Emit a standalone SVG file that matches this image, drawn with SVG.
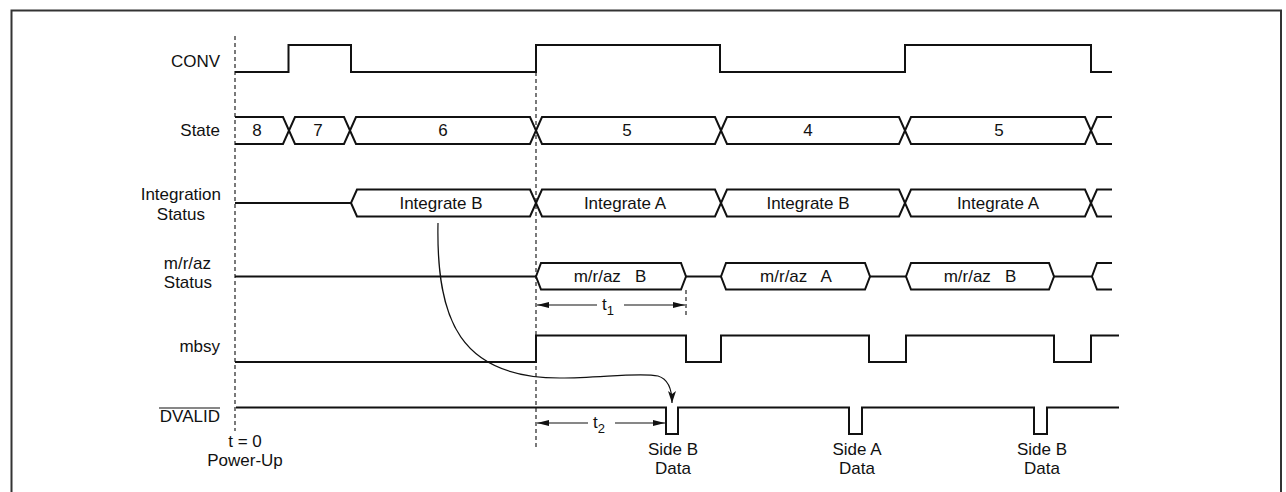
<svg xmlns="http://www.w3.org/2000/svg" width="1286" height="492" viewBox="0 0 1286 492">
<defs>
<style>
.sig{fill:none;stroke:#111;stroke-width:2;stroke-linejoin:miter}
.bus{fill:#fff;stroke:#111;stroke-width:2;stroke-linejoin:miter}
.dash{fill:none;stroke:#222;stroke-width:1.2;stroke-dasharray:4,3}
.thin{fill:none;stroke:#111;stroke-width:1.2}
text{font-family:"Liberation Sans",Arial,sans-serif;font-size:17px;fill:#111}
.lbl{text-anchor:end}
.mid{text-anchor:middle}
.sub{font-size:13px}
</style>
<marker id="ah" viewBox="0 0 12 6" refX="12" refY="3" markerWidth="12" markerHeight="6" markerUnits="userSpaceOnUse" orient="auto">
<path d="M0,0 L12,3 L0,6 Z" fill="#111"/>
</marker>
<marker id="ah2" viewBox="0 0 12 8" refX="12" refY="4" markerWidth="12" markerHeight="8" markerUnits="userSpaceOnUse" orient="auto">
<path d="M0,0 L12,4 L0,8 L3,4 Z" fill="#111"/>
</marker>
</defs>
<rect x="11.5" y="10.5" width="1269.5" height="500" fill="#fff" stroke="#333" stroke-width="2"/>

<g id="ref-lines">
<line class="dash" x1="235" y1="36" x2="235" y2="431"/>
<line class="dash" x1="536" y1="72" x2="536" y2="450"/>
<line class="dash" x1="686" y1="290" x2="686" y2="316"/>
</g>

<g id="conv">
<text class="lbl" x="220" y="67">CONV</text>
<path class="sig" d="M235,72 H288.5 V45 H351 V72 H536 V45 H720 V72 H905 V45 H1091 V72 H1112"/>
</g>

<g id="state">
<text class="lbl" x="220" y="136">State</text>
<path class="sig" d="M235,117 H283 L295,144 H344 L356,117 H530 L542,144 H715 L727,117 H899 L911,144 H1085 L1097,117 H1112"/>
<path class="sig" d="M235,144 H283 L295,117 H344 L356,144 H530 L542,117 H715 L727,144 H899 L911,117 H1085 L1097,144 H1112"/>
<text class="mid" x="257" y="136">8</text>
<text class="mid" x="318" y="136">7</text>
<text class="mid" x="443" y="136">6</text>
<text class="mid" x="627" y="136">5</text>
<text class="mid" x="808" y="136">4</text>
<text class="mid" x="999" y="136">5</text>
</g>

<g id="integration-status">
<text class="lbl" x="221" y="200">Integration</text>
<text class="lbl" x="205" y="220">Status</text>
<path class="sig" d="M235,203 H351 L357,189.5 H530 L542,216.5 H715 L727,189.5 H899 L911,216.5 H1085 L1097,189.5 H1112"/>
<path class="sig" d="M351,203 L357,216.5 H530 L542,189.5 H715 L727,216.5 H899 L911,189.5 H1085 L1097,216.5 H1112"/>
<text class="mid" x="441" y="209">Integrate B</text>
<text class="mid" x="625" y="209">Integrate A</text>
<text class="mid" x="808" y="209">Integrate B</text>
<text class="mid" x="998" y="209">Integrate A</text>
</g>

<g id="mraz-status">
<text class="lbl" x="211" y="269">m/r/az</text>
<text class="lbl" x="212" y="288">Status</text>
<path class="sig" d="M235,276.5 H536 M686,276.5 H721 M870,276.5 H906 M1054,276.5 H1092"/>
<path class="bus" d="M536,276.5 L541,263 H681 L686,276.5 L681,289.5 H541 Z"/>
<path class="bus" d="M721,276.5 L726,263 H865 L870,276.5 L865,289.5 H726 Z"/>
<path class="bus" d="M906,276.5 L911,263 H1049 L1054,276.5 L1049,289.5 H911 Z"/>
<path class="sig" d="M1112,263 H1097 L1092,276.5 L1097,289.5 H1112"/>
<text class="mid" x="610" y="282" xml:space="preserve">m/r/az   B</text>
<text class="mid" x="796" y="282" xml:space="preserve">m/r/az   A</text>
<text class="mid" x="980" y="282" xml:space="preserve">m/r/az   B</text>
</g>

<g id="mbsy">
<text class="lbl" x="220" y="352">mbsy</text>
<path class="sig" d="M235,362 H536 V335.5 H686 V362 H721 V335.5 H869 V362 H906 V335.5 H1054 V362 H1091 V335.5 H1119"/>
</g>

<g id="dvalid">
<text class="lbl" x="220" y="422">DVALID</text>
<line x1="159" y1="408" x2="220" y2="408" stroke="#111" stroke-width="1.2"/>
<path class="sig" d="M236,407.5 H666 V434 H678 V407.5 H849 V434 H862 V407.5 H1034 V434 H1047 V407.5 H1119"/>
<text class="mid" x="673" y="455">Side B</text>
<text class="mid" x="673" y="474">Data</text>
<text class="mid" x="857" y="455">Side A</text>
<text class="mid" x="857" y="474">Data</text>
<text class="mid" x="1042" y="455">Side B</text>
<text class="mid" x="1042" y="474">Data</text>
</g>

<g id="t0">
<text class="mid" x="245" y="447">t = 0</text>
<text class="mid" x="245" y="466">Power-Up</text>
</g>

<g id="connectors">
<line class="thin" x1="597" y1="305" x2="537" y2="305" marker-end="url(#ah)"/>
<line class="thin" x1="624" y1="305" x2="685" y2="305" marker-end="url(#ah)"/>
<text x="602" y="310">t<tspan class="sub" dy="5">1</tspan></text>
<line class="thin" x1="588" y1="423" x2="537" y2="423" marker-end="url(#ah)"/>
<line class="thin" x1="615" y1="423" x2="665" y2="423" marker-end="url(#ah)"/>
<text x="593" y="428">t<tspan class="sub" dy="5">2</tspan></text>
<path class="thin" d="M438,223 C436,320 460,378 560,378 C600,378 640,372 658,376 C668,379 672,388 672,403" marker-end="url(#ah2)"/>
</g>
</svg>
